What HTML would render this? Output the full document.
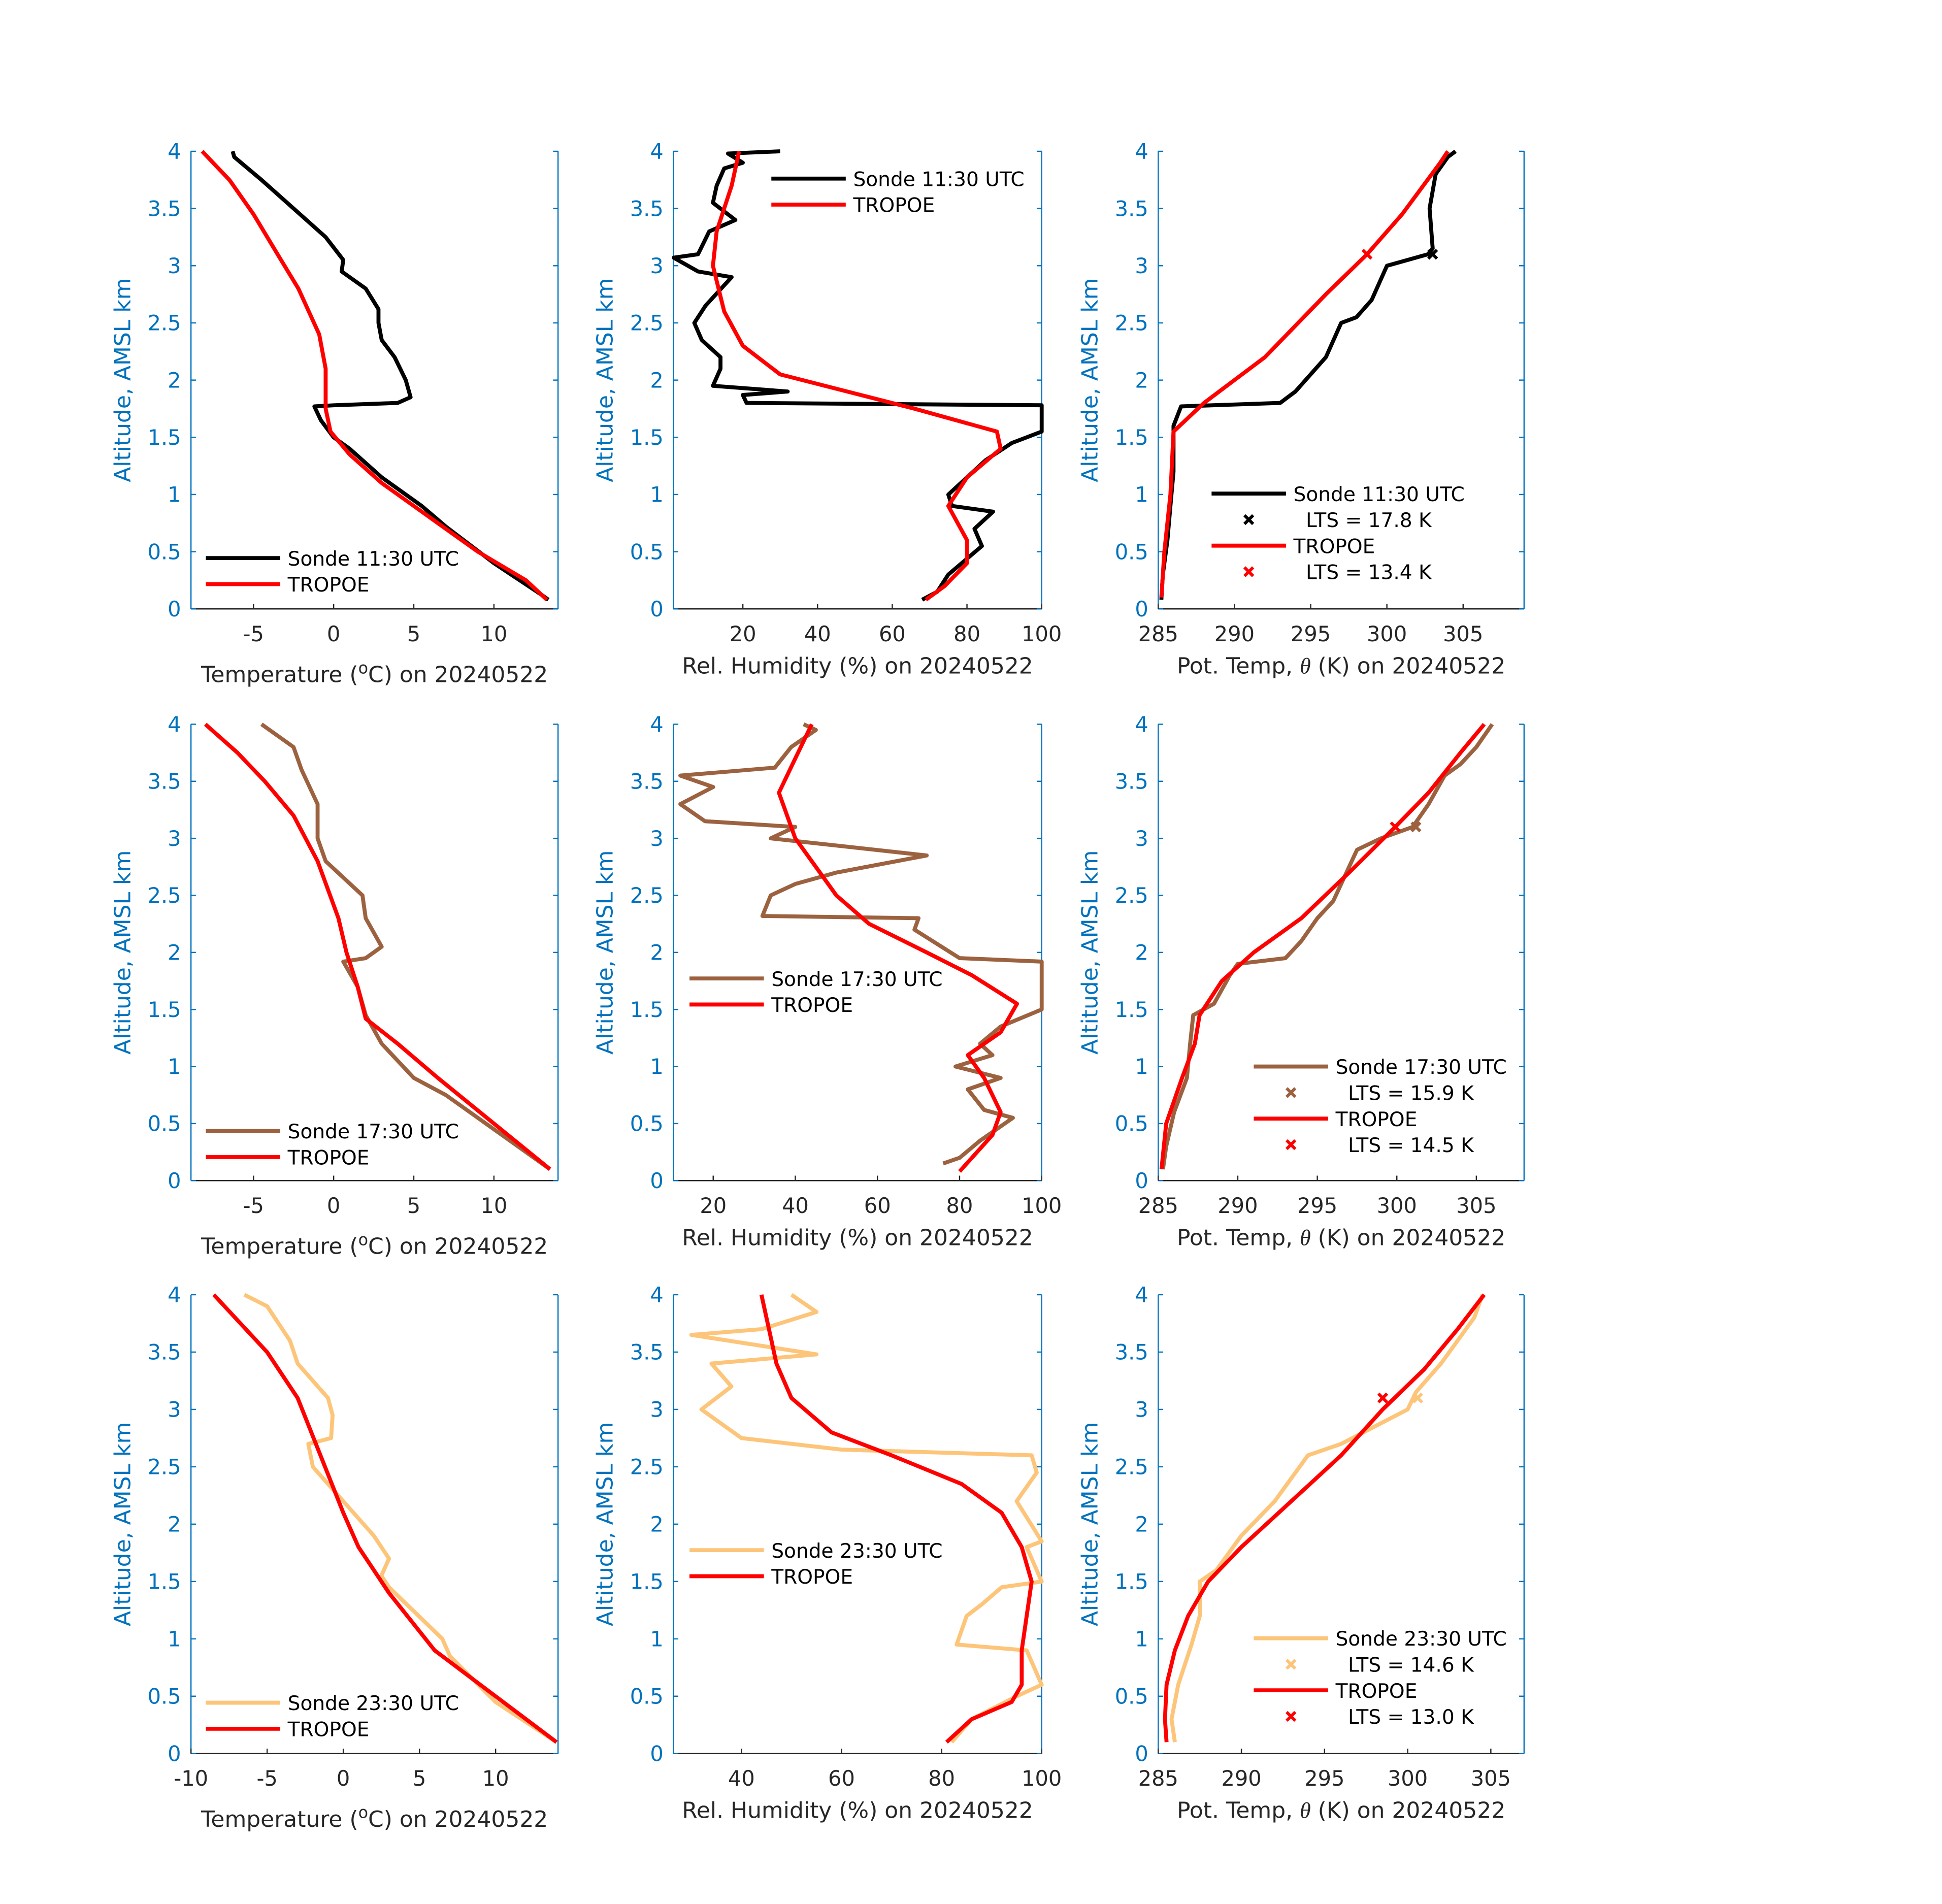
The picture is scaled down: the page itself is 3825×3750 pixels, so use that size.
<!DOCTYPE html>
<html><head><meta charset="utf-8"><style>
html,body{margin:0;padding:0;background:#fff;}
svg{display:block;}
text{font-family:"DejaVu Sans","Liberation Sans",sans-serif;}
</style></head><body>
<svg id="fig" width="3825" height="3750" viewBox="0 0 1566 1535.3" xmlns="http://www.w3.org/2000/svg"></svg>
<script>
// ---- data arrays: [value, altitude km] ----
const temp1Sonde=[[13.4,0.08],[13,0.12],[10,0.4],[7,0.72],[5.5,0.9],[3,1.15],[1,1.4],[0,1.5],[-0.8,1.65],[-1.2,1.77],[0,1.78],[4,1.8],[4.8,1.85],[4.5,2.0],[3.8,2.2],[3,2.35],[2.8,2.5],[2.8,2.62],[2,2.8],[0.5,2.95],[0.6,3.05],[-0.5,3.25],[-2.5,3.5],[-4.5,3.75],[-6.2,3.95],[-6.3,4.0]];
const temp1Trop=[[13.3,0.08],[12,0.25],[9,0.5],[6,0.8],[3,1.1],[1,1.35],[-0.2,1.55],[-0.5,1.75],[-0.5,2.1],[-0.9,2.4],[-2.2,2.8],[-3.5,3.1],[-5,3.45],[-6.5,3.75],[-8.2,4.0]];
const temp2Sonde=[[13.5,0.1],[10,0.45],[7,0.75],[5,0.9],[3,1.2],[2,1.45],[1.5,1.7],[0.6,1.92],[2,1.95],[3,2.05],[2,2.3],[1.8,2.5],[-0.5,2.8],[-1,3.0],[-1,3.3],[-2,3.6],[-2.5,3.8],[-4.5,4.0]];
const temp2Trop=[[13.5,0.1],[10,0.5],[6.5,0.9],[4,1.2],[2,1.42],[1.5,1.7],[0.8,2.0],[0.3,2.3],[-1,2.8],[-2.5,3.2],[-4.3,3.5],[-6,3.75],[-8,4.0]];
const temp3Sonde=[[14,0.1],[10,0.45],[7,0.85],[6.5,1.0],[3,1.45],[2.5,1.55],[3,1.7],[2,1.9],[0,2.2],[-1,2.35],[-2,2.5],[-2.3,2.7],[-0.8,2.75],[-0.7,2.95],[-1,3.1],[-3,3.4],[-3.5,3.6],[-5,3.9],[-6.5,4.0]];
const temp3Trop=[[14,0.1],[10,0.5],[6,0.9],[3,1.4],[1,1.8],[0,2.1],[-1.5,2.6],[-3,3.1],[-5,3.5],[-8.5,4.0]];
const rh1Sonde=[[68,0.08],[72,0.15],[75,0.3],[84,0.55],[82,0.7],[87,0.85],[76,0.9],[75,1.0],[80,1.15],[85,1.3],[92,1.45],[100,1.55],[100,1.78],[21,1.8],[20,1.87],[32,1.9],[12,1.95],[14,2.1],[14,2.2],[9,2.35],[7,2.5],[10,2.65],[17,2.9],[8,2.95],[1.5,3.07],[8,3.1],[11,3.3],[18,3.4],[12,3.55],[13,3.7],[15,3.85],[20,3.9],[16,3.98],[30,4.0]];
const rh1Trop=[[69,0.08],[74,0.2],[80,0.4],[80,0.6],[75,0.9],[80,1.15],[89,1.4],[88,1.55],[66,1.75],[30,2.05],[20,2.3],[15,2.6],[12,3.0],[13,3.3],[17,3.7],[19,4.0]];
const rh2Sonde=[[76,0.15],[80,0.2],[85,0.35],[93,0.55],[86,0.62],[82,0.8],[90,0.9],[79,1.0],[88,1.1],[85,1.2],[90,1.35],[100,1.5],[100,1.92],[80,1.95],[69,2.2],[70,2.3],[32,2.32],[34,2.5],[40,2.6],[50,2.7],[72,2.85],[34,3.0],[40,3.1],[18,3.15],[12,3.3],[20,3.45],[12,3.55],[35,3.62],[39,3.8],[45,3.95],[42,4.0]];
const rh2Trop=[[80,0.08],[83,0.2],[88,0.4],[90,0.6],[86,0.9],[82,1.1],[90,1.3],[94,1.55],[83,1.8],[72,2.0],[58,2.25],[50,2.5],[46,2.7],[40,3.0],[36,3.4],[40,3.7],[44,4.0]];
const rh3Sonde=[[82,0.1],[86,0.3],[95,0.5],[100,0.6],[97,0.9],[83,0.95],[85,1.2],[88,1.3],[92,1.45],[100,1.5],[97,1.8],[100,1.85],[95,2.2],[99,2.45],[98,2.6],[60,2.65],[40,2.75],[32,3.0],[38,3.2],[34,3.4],[55,3.48],[30,3.65],[44,3.7],[55,3.85],[50,4.0]];
const rh3Trop=[[81,0.1],[86,0.3],[94,0.45],[96,0.6],[96,0.9],[97,1.2],[98,1.5],[96,1.8],[92,2.1],[84,2.35],[70,2.6],[58,2.8],[50,3.1],[47,3.4],[46,3.6],[44,4.0]];
const th1Sonde=[[285.2,0.08],[285.3,0.3],[285.6,0.6],[285.8,0.9],[286,1.2],[286,1.6],[286.5,1.77],[293,1.8],[294,1.9],[296,2.2],[297,2.5],[298,2.55],[299,2.7],[300,3.0],[302.7,3.1],[303,3.15],[302.8,3.5],[303.2,3.8],[304,3.95],[304.5,4.0]];
const th1Trop=[[285.2,0.1],[285.4,0.5],[285.8,1.0],[286,1.55],[288,1.8],[292,2.2],[296,2.75],[298.7,3.1],[301,3.45],[303.5,3.9],[304,4.0]];
const th2Sonde=[[285.3,0.1],[285.5,0.3],[286,0.6],[286.8,0.9],[287,1.2],[287.2,1.45],[288.5,1.55],[289.5,1.8],[290,1.9],[293,1.95],[294,2.1],[295,2.3],[296,2.45],[296.5,2.6],[297.5,2.9],[299,3.0],[301,3.1],[302,3.3],[303,3.55],[304,3.65],[305,3.8],[306,4.0]];
const th2Trop=[[285.2,0.1],[285.5,0.5],[286.5,0.9],[287.3,1.2],[287.6,1.45],[289,1.75],[291,2.0],[294,2.3],[297,2.7],[299.9,3.1],[302,3.4],[304,3.75],[305.5,4.0]];
const th3Sonde=[[286,0.1],[285.8,0.3],[286.2,0.6],[287,0.95],[287.5,1.2],[287.5,1.5],[288.5,1.6],[290,1.9],[292,2.2],[293,2.4],[294,2.6],[296,2.7],[298,2.85],[300,3.0],[300.5,3.15],[302,3.4],[303,3.6],[304,3.8],[304.5,4.0]];
const th3Trop=[[285.5,0.1],[285.4,0.3],[285.5,0.6],[286,0.9],[286.8,1.2],[288,1.5],[290,1.8],[293,2.2],[296,2.6],[298.5,3.0],[301,3.35],[303,3.7],[304.6,4.0]];
const ltsSonde=[[303,3.1],[301.2,3.1],[300.6,3.1]];
const ltsTrop=[[298.7,3.1],[299.9,3.1],[298.5,3.1]];
const ltsSondeText=["LTS = 17.8 K","LTS = 15.9 K","LTS = 14.6 K"];
const ltsTropText=["LTS = 13.4 K","LTS = 14.5 K","LTS = 13.0 K"];
const sondeLabels=["Sonde 11:30 UTC","Sonde 17:30 UTC","Sonde 23:30 UTC"];
const yTicks=[0,0.5,1,1.5,2,2.5,3,3.5,4];
const tempTicks=[[-5,0,5,10],[-5,0,5,10],[-10,-5,0,5,10]];
const rhTicks=[[20,40,60,80,100],[20,40,60,80,100],[40,60,80,100]];
const thTicks=[[285,290,295,300,305],[285,290,295,300,305],[285,290,295,300,305]];
const xlimTemp=[[-8.9,14],[-8.9,14],[-10,14.1]];
const xlimRh=[[1.4,100],[10.3,100],[26.4,100]];
const xlimTh=[[285,309],[285,308],[285,307]];

const NS="http://www.w3.org/2000/svg";
const svg=document.getElementById('fig');
function mk(tag,attrs,parent){const e=document.createElementNS(NS,tag);for(const k in attrs)e.setAttribute(k,attrs[k]);(parent||svg).appendChild(e);return e;}
const colsX=[[154,450],[543,840],[934,1229]];
const rowsY=[[122,491],[584,952],[1044,1414]];
const sondeColors=["#000000","#9c6240","#fdc57a"];
const BLUE="#0072BD";

function panel(r,c,xlim,xt,sonde,trop,xlabel,legendCfg,lts){
  const [x0,x1]=colsX[c],[y0,y1]=rowsY[r];
  const sx=v=>x0+(v-xlim[0])/(xlim[1]-xlim[0])*(x1-x0);
  const sy=v=>y1-(v/4)*(y1-y0);
  const g=mk('g',{});
  
  
  const ax=mk('path',{d:`M${x0},${y0}V${y1}M${x1},${y0}V${y1}`,stroke:BLUE,'stroke-width':1,fill:'none'},g);
  
  const bx=mk('line',{x1:x0,y1:y1,x2:x1,y2:y1,stroke:'#262626','stroke-width':1},g);
  
  yTicks.forEach(t=>{
    mk('line',{x1:x0,x2:x0+4,y1:sy(t),y2:sy(t),stroke:BLUE,'stroke-width':1},g);
    mk('line',{x1:x1,x2:x1-4,y1:sy(t),y2:sy(t),stroke:BLUE,'stroke-width':1},g);
    const tx=mk('text',{x:x0-8,y:sy(t)+6,'text-anchor':'end','font-size':17,fill:BLUE},g);
    tx.textContent=String(t);
    
  });
  xt.forEach(t=>{
    mk('line',{x1:sx(t),x2:sx(t),y1:y1,y2:y1-4,stroke:'#262626','stroke-width':1},g);
    const tx=mk('text',{x:sx(t),y:y1+26,'text-anchor':'middle','font-size':17,fill:'#262626'},g);
    tx.textContent=String(t);
    
  });
  const yl=mk('text',{transform:`translate(${x0-49},${(y0+y1)/2}) rotate(-90)`,'text-anchor':'middle','font-size':18,fill:BLUE},g);
  yl.textContent='Altitude, AMSL km';
  
  const xl=mk('text',{x:(x0+x1)/2,y:y1+(c==0?59:52),'text-anchor':'middle','font-size':18,fill:'#262626'},g);
  xl.innerHTML=xlabel;
  
  const line=(data,col,name)=>{
    const p=mk('path',{d:data.map((d,i)=>(i?'L':'M')+sx(d[0]).toFixed(1)+','+sy(d[1]).toFixed(1)).join(''),stroke:col,'stroke-width':3.2,fill:'none','stroke-linejoin':'round'},g);
    
  };
  line(sonde,sondeColors[r],'sonde-line');
  line(trop,'#ff0000','tropoe-line');
  const cross=(x,y,col,name)=>{
    const p=mk('path',{d:`M${x-3.5},${y-3.5}L${x+3.5},${y+3.5}M${x-3.5},${y+3.5}L${x+3.5},${y-3.5}`,stroke:col,'stroke-width':2.5},g);
    
  };
  if(lts){
    cross(sx(ltsSonde[r][0]),sy(ltsSonde[r][1]),sondeColors[r],'lts-sonde-marker');
    cross(sx(ltsTrop[r][0]),sy(ltsTrop[r][1]),'#ff0000','lts-tropoe-marker');
  }
  const L=legendCfg;
  const lg=mk('g',{},g);
  
  const entry=(y,col,label)=>{
    mk('line',{x1:L.x,x2:L.x+60,y1:y,y2:y,stroke:col,'stroke-width':3.2},lg);
    const t=mk('text',{x:L.x+66,y:y+6,'font-size':16,fill:'#000'},lg);t.textContent=label;
    
  };
  if(!lts){
    entry(L.y,sondeColors[r],sondeLabels[r]);
    entry(L.y+21,'#ff0000','TROPOE');
  } else {
    entry(L.y,sondeColors[r],sondeLabels[r]);
    cross(L.x+30,L.y+21,sondeColors[r],'legend-lts-marker');
    let t=mk('text',{x:L.x+76,y:L.y+27,'font-size':16,fill:'#000'},lg);t.textContent=ltsSondeText[r];
    
    entry(L.y+42,'#ff0000','TROPOE');
    cross(L.x+30,L.y+63,'#ff0000','legend-lts-marker');
    t=mk('text',{x:L.x+76,y:L.y+69,'font-size':16,fill:'#000'},lg);t.textContent=ltsTropText[r];
    
  }
}
const tempLabel='Temperature (<tspan dy="-7" font-size="13">o</tspan><tspan dy="7">C) on 20240522</tspan>';
const rhLabel='Rel. Humidity (%) on 20240522';
const thLabel='Pot. Temp, <tspan font-family="Liberation Serif,serif" font-style="italic">θ</tspan> (K) on 20240522';
const temps=[[temp1Sonde,temp1Trop],[temp2Sonde,temp2Trop],[temp3Sonde,temp3Trop]];
const rhs=[[rh1Sonde,rh1Trop],[rh2Sonde,rh2Trop],[rh3Sonde,rh3Trop]];
const ths=[[th1Sonde,th1Trop],[th2Sonde,th2Trop],[th3Sonde,th3Trop]];
const legT=[{x:166,y:450},{x:166,y:912},{x:166,y:1373}];
const legR=[{x:622,y:144},{x:556,y:789},{x:556,y:1250}];
const legH=[{x:977,y:398},{x:1011,y:860},{x:1011,y:1321}];
for(let r=0;r<3;r++){
  panel(r,0,xlimTemp[r],tempTicks[r],temps[r][0],temps[r][1],tempLabel,legT[r],false);
  panel(r,1,xlimRh[r],rhTicks[r],rhs[r][0],rhs[r][1],rhLabel,legR[r],false);
  panel(r,2,xlimTh[r],thTicks[r],ths[r][0],ths[r][1],thLabel,legH[r],true);
}
</script>
</body></html>
